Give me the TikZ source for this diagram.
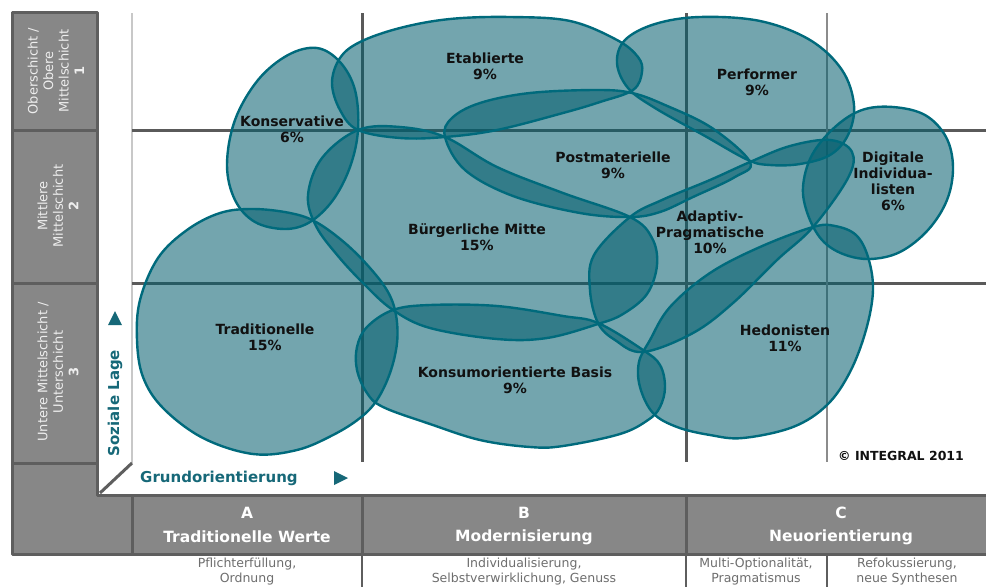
\documentclass[tikz,border=0pt]{standalone}
\usepackage{fontspec}
\setmainfont{DejaVu Sans}
\definecolor{panelgrey}{HTML}{878787}
\definecolor{paneledge}{HTML}{5E5E5E}
\definecolor{gridgrey}{HTML}{5A5A5A}
\definecolor{gridlight}{HTML}{8C8C8C}
\definecolor{framelight}{HTML}{C8C8C8}
\definecolor{tealfill}{RGB}{0,92,108}
\definecolor{tealedge}{RGB}{0,106,124}
\definecolor{axisteal}{RGB}{22,104,120}
\definecolor{desctext}{HTML}{6E6E6E}
\definecolor{paneltext}{HTML}{EEEEEE}
\definecolor{labeltext}{HTML}{111111}
\tikzset{
  panel/.style={fill=panelgrey,draw=paneledge,line width=3pt,line join=round},
  gridthick/.style={draw=gridgrey,line width=3pt},
  gridthin/.style={draw=gridlight,line width=1.5pt},
  framethin/.style={draw=framelight,line width=1.5pt},
  blobfill/.style={fill=tealfill,fill opacity=0.55},
  blobedge/.style={draw=tealedge,line width=2.4pt},
  lab/.style={font=\bfseries\fontsize{14}{16}\selectfont,align=center,text=labeltext,inner sep=0pt},
  sidetext/.style={font=\fontsize{13}{15.5}\selectfont,align=center,text=paneltext,inner sep=0pt,rotate=90},
  bandletter/.style={font=\bfseries\fontsize{15.5}{17}\selectfont,text=white,inner sep=0pt},
  desc/.style={font=\fontsize{12.5}{15}\selectfont,align=center,text=desctext,inner sep=0pt},
  axislab/.style={font=\bfseries\fontsize{15}{17}\selectfont,text=axisteal,inner sep=0pt},
  axistri/.style={fill=axisteal},
}
\newcommand\blobfillcmd[1]{\fill[blobfill] plot[smooth cycle,tension=0.6] coordinates {#1};}
\newcommand\blobedgecmd[1]{\draw[blobedge] plot[smooth cycle,tension=0.6] coordinates {#1};}
\newcommand\allmilieus[1]{%
  % Konservative
  #1{(317,48) (340,62) (355,90) (358,130) (350,167) (333,200) (310,222) (285,229) (255,222) (235,200) (227,165) (235,120) (258,80) (288,55)}%
  % Etablierte
  #1{(332,83) (340,58) (360,42) (400,28) (450,19) (510,17) (570,21) (617,40) (638,57) (642,72) (633,90) (600,102) (563,113) (497,130) (445,137) (400,138) (358,130) (340,110)}%
  % Performer
  #1{(617,63) (625,40) (655,24) (700,17) (760,21) (810,40) (842,70) (854,105) (848,135) (830,155) (800,164) (770,165) (748,160) (705,136) (655,108) (628,88)}%
  % Postmaterielle
  #1{(445,137) (452,118) (480,103) (530,93) (597,90) (632,93) (665,105) (712,128) (750,162) (735,177) (693,197) (660,212) (630,217) (580,213) (513,196) (465,170)}%
  % Buergerliche Mitte
  #1{(358,130) (400,127) (445,137) (497,167) (563,193) (630,217) (652,238) (657,265) (647,294) (623,314) (598,324) (547,338) (497,339) (430,328) (393,310) (365,285) (338,256) (316,226) (308,195) (322,158)}%
  % Adaptiv-Pragmatische
  #1{(630,217) (662,200) (710,180) (750,162) (790,146) (830,140) (852,152) (848,178) (813,227) (777,260) (733,303) (693,333) (643,352) (615,340) (598,323) (590,290) (594,255)}%
  % Digitale Individualisten
  #1{(893,107) (925,115) (946,137) (953,167) (947,200) (928,230) (900,252) (870,259) (843,254) (822,240) (808,215) (803,187) (812,155) (835,127) (862,110)}%
  % Traditionelle
  #1{(253,209) (290,213) (316,222) (345,243) (370,268) (388,292) (396,315) (397,343) (390,373) (377,400) (360,418) (333,435) (297,450) (253,454) (203,438) (163,408) (143,377) (137,340) (140,300) (158,258) (187,230) (220,213)}%
  % Konsumorientierte Basis
  #1{(393,310) (430,305) (497,306) (563,316) (598,323) (643,350) (660,365) (665,387) (660,407) (648,420) (620,434) (563,446) (530,447) (480,440) (430,424) (383,407) (367,393) (357,370) (357,347) (367,327)}%
  % Hedonisten
  #1{(813,227) (835,226) (856,235) (868,257) (873,290) (866,330) (850,372) (827,405) (793,427) (743,438) (710,435) (677,427) (653,413) (640,387) (639,362) (650,340) (670,307) (710,273) (760,247)}%
}
\begin{document}
\begin{tikzpicture}[x=1pt,y=-1pt]
\useasboundingbox (0,0) rectangle (986,587);
\fill[white] (0,0) rectangle (986,587);
% left column panels
\draw[panel] (12,12) rectangle (97,130);
\draw[panel] (12,130) rectangle (97,283);
\draw[panel] (12,283) rectangle (97,463);
\draw[panel] (12,463) -- (97,463) -- (97,495) -- (132,495) -- (132,554) -- (12,554) -- cycle;
% bottom band
\draw[panel] (132,495) rectangle (362,554);
\draw[panel] (362,495) rectangle (686,554);
\draw[panel] (686,495) rectangle (990,554);
% frame of plot
\draw[framethin] (132,13) -- (132,463);
\draw[draw=paneledge,line width=3pt] (100,493) -- (132,463);
% grid
\draw[gridthick] (132,130) -- (986,130);
\draw[gridthick] (132,283) -- (986,283);
\draw[gridthick] (362,13) -- (362,462);
\draw[gridthick] (686,13) -- (686,462);
\draw[gridthin] (827,13) -- (827,462);
% separators below band
\draw[draw=paneledge,line width=2pt] (362,554) -- (362,587);
\draw[draw=paneledge,line width=2pt] (686,554) -- (686,587);
\draw[draw=paneledge,line width=1.5pt] (827,554) -- (827,587);
% milieus
\allmilieus\blobfillcmd
\allmilieus\blobedgecmd
% milieu labels
\node[lab] (etab) at (485,66) {Etablierte\\9\%};
\node[lab] (perf) at (757,82) {Performer\\9\%};
\node[lab] (kons) at (292,129.5) {Konservative\\6\%};
\node[lab] (post) at (613,165) {Postmaterielle\\9\%};
\node[lab] (buerg) at (477,237) {Bürgerliche Mitte\\15\%};
\node[lab] (adap) at (710,232) {Adaptiv-\\Pragmatische\\10\%};
\node[lab] (digi) at (893,181.5) {Digitale\\Individua-\\listen\\6\%};
\node[lab] (trad) at (265,337.5) {Traditionelle\\15\%};
\node[lab] (kons2) at (515,380.5) {Konsumorientierte Basis\\9\%};
\node[lab] (hedo) at (785,338) {Hedonisten\\11\%};
\node[font=\bfseries\fontsize{12.5}{14}\selectfont,text=labeltext,inner sep=0pt] (copy) at (901,456) {© INTEGRAL 2011};
% side texts
\node[sidetext] (s1) at (56,71) {Oberschicht /\\Obere\\Mittelschicht\\\textbf{1}};
\node[sidetext] (s2) at (58,206) {Mittlere\\Mittelschicht\\\textbf{2}};
\node[sidetext] (s3) at (58,372) {Untere Mittelschicht /\\Unterschicht\\\textbf{3}};
% axes
\node[axislab,rotate=90] (soz) at (115,403) {Soziale Lage};
\fill[axistri] (108,325) -- (122,325) -- (115,311) -- cycle;
\node[axislab,anchor=west] (grund) at (140,478) {Grundorientierung};
\fill[axistri] (334,471) -- (334,485) -- (348,478) -- cycle;
% band labels
\node[bandletter] (la) at (247,513) {A};
\node[bandletter] (na) at (247,537) {Traditionelle Werte};
\node[bandletter] (lb) at (524,513) {B};
\node[bandletter] (nb) at (524,537) {Modernisierung};
\node[bandletter] (lc) at (841,513) {C};
\node[bandletter] (nc) at (841,537) {Neuorientierung};
% descriptions
\node[desc] (da) at (247,571.5) {Pflichterfüllung,\\Ordnung};
\node[desc] (db) at (524,571.5) {Individualisierung,\\Selbstverwirklichung, Genuss};
\node[desc] (dc1) at (756,571.5) {Multi-Optionalität,\\Pragmatismus};
\node[desc] (dc2) at (907,571.5) {Refokussierung,\\neue Synthesen};
\end{tikzpicture}
\end{document}
